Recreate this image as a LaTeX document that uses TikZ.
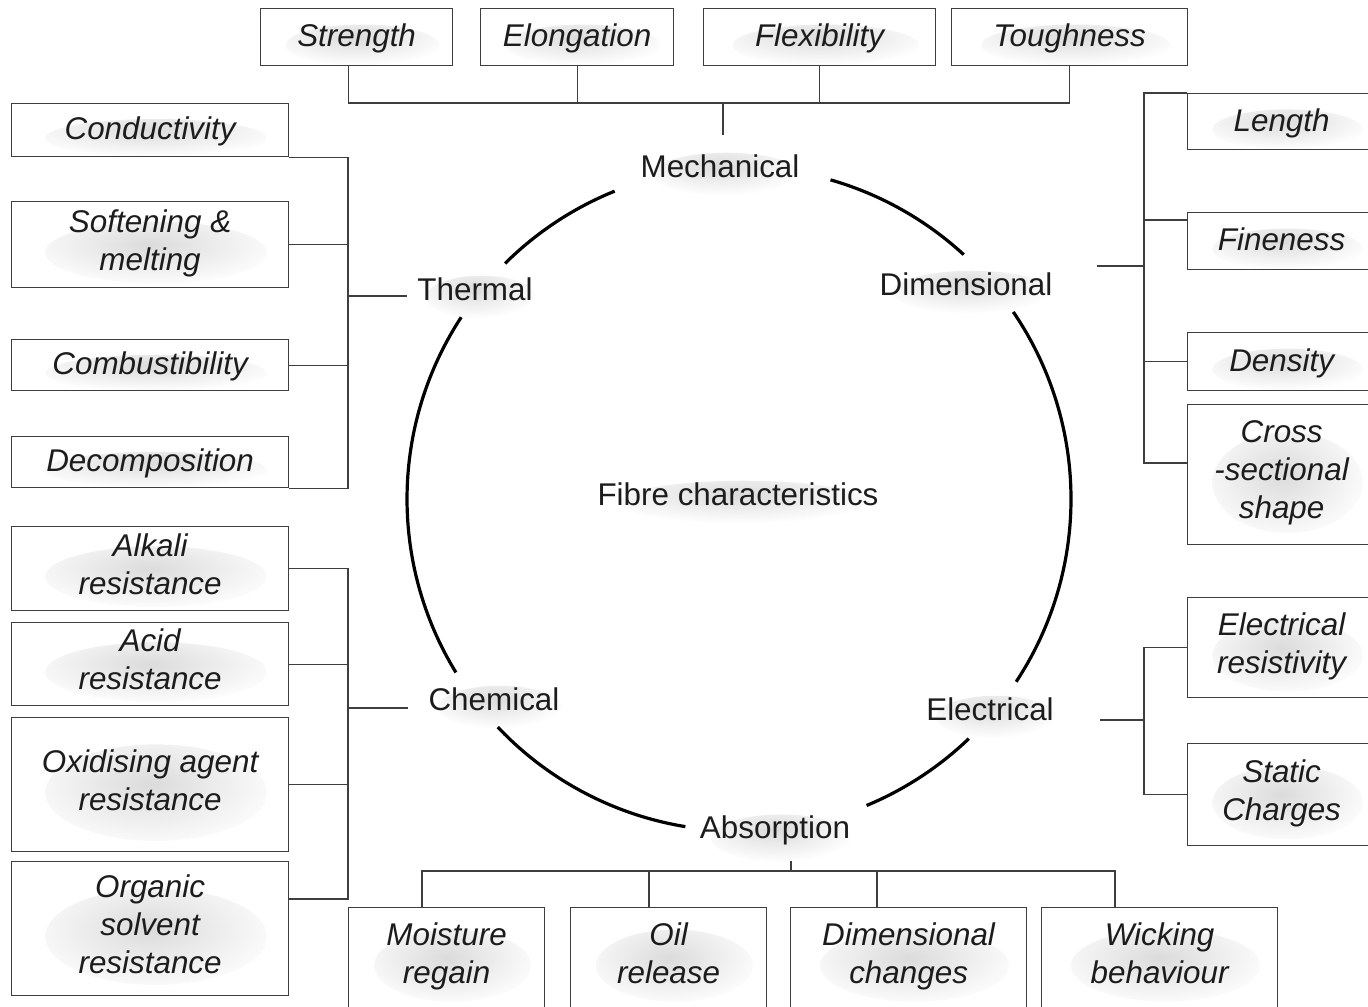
\documentclass[tikz,border=0pt]{standalone}
\usepackage{fontspec}
\setmainfont{Liberation Sans}
\usetikzlibrary{positioning, calc}
\definecolor{ink}{RGB}{28,28,28}
\definecolor{rule}{RGB}{62,62,62}
\newcommand\propstrut{\rule[-4.65pt]{0pt}{19pt}}

\begin{document}
\begin{tikzpicture}[x=0.5pt, y=-0.5pt,
    haze/.style={path picture={
        \shade[inner color=black!14, outer color=white]
          let \p1=(path picture bounding box.south west), \p2=(path picture bounding box.north east) in
          ([xshift=3pt, yshift=-4pt]path picture bounding box.center)
          ellipse[x radius={#1*(\x2-\x1)}, y radius={0.36*(\y2-\y1)}];}},
    haze/.default=0.4,
    prop/.style={rectangle, draw=rule, line width=0.6pt, fill=white, align=center, text=ink,
                 inner ysep=1pt, font=\fontsize{15.7}{19}\selectfont\itshape, haze,
                 execute at begin node=\propstrut, execute at end node=\propstrut},
    toprow/.style={prop, minimum height=28.5pt},
    leftcol/.style={prop, minimum width=138.5pt},
    rightcol/.style={prop, minimum width=94pt},
    botrow/.style={prop, minimum height=50pt},
    cat/.style={fill=white, text=ink, inner xsep=4pt, inner ysep=9pt,
                font=\fontsize{15.7}{19}\selectfont, haze=0.42},
    link/.style={draw=rule, line width=0.6pt},
    ring/.style={draw=black, line width=1.6pt}
]
    \clip (0,0) rectangle (1368,1006);
    \fill[white] (0,0) rectangle (1368,1006);

    % Centre and the six groups
    \node[cat] (core) at (738,494) {Fibre characteristics};
    \coordinate (hub) at (739,499);
    \node[cat] (mech) at (720,166) {Mechanical};
    \node[cat] (therm) at (475,289) {Thermal};
    \node[cat] (dimen) at (966,284) {Dimensional};
    \node[cat] (chem) at (494,699) {Chemical};
    \node[cat] (elec) at (990,709) {Electrical};
    \node[cat] (absorp) at (775,830) {Absorption};

    % Mechanical properties
    \node[toprow, minimum width=96pt, anchor=north west] (strength) at (260,8) {Strength};
    \node[toprow, minimum width=96.5pt, right=13.4pt of strength] (elong) {Elongation};
    \node[toprow, minimum width=116pt, right=14.4pt of elong] (flex) {Flexibility};
    \node[toprow, minimum width=118pt, right=7.4pt of flex] (tough) {Toughness};

    % Thermal properties
    \node[leftcol, minimum height=26.5pt, anchor=north west] (cond) at (11,103) {Conductivity};
    \node[leftcol, minimum height=43pt, below=21.9pt of cond] (soft) {Softening \&\\melting};
    \node[leftcol, minimum height=25.5pt, below=25.4pt of soft] (comb) {Combustibility};
    \node[leftcol, minimum height=25.5pt, below=22.4pt of comb] (decomp) {Decomposition};

    % Chemical properties
    \node[leftcol, minimum height=42pt, below=18.9pt of decomp] (alkali) {Alkali\\resistance};
    \node[leftcol, minimum height=41.5pt, below=5.4pt of alkali] (acid) {Acid\\resistance};
    \node[leftcol, minimum height=67pt, below=5.4pt of acid] (oxid) {Oxidising agent\\resistance};
    \node[leftcol, minimum height=67pt, below=4.4pt of oxid] (organic) {Organic\\solvent\\resistance};

    % Dimensional properties
    \node[rightcol, minimum height=28pt, anchor=north west] (length) at (1187,93) {Length};
    \node[rightcol, minimum height=28.5pt, below=30.9pt of length] (fine) {Fineness};
    \node[rightcol, minimum height=29pt, below=30.9pt of fine] (dens) {Density};
    \node[rightcol, minimum height=70pt, below=6.4pt of dens] (cross) {Cross\\-sectional\\shape};

    % Electrical properties
    \node[rightcol, minimum height=50pt, below=25.9pt of cross] (resist) {Electrical\\resistivity};
    \node[rightcol, minimum height=51pt, below=22.4pt of resist] (static) {Static\\Charges};

    % Absorption properties
    \node[botrow, minimum width=98pt, anchor=north west] (moist) at (348,907) {Moisture\\regain};
    \node[botrow, minimum width=98pt, right=12.4pt of moist] (oil) {Oil\\release};
    \node[botrow, minimum width=118pt, right=11.4pt of oil] (dimch) {Dimensional\\changes};
    \node[botrow, minimum width=118pt, right=6.9pt of dimch] (wick) {Wicking\\behaviour};

    % Ring, broken at the group names
    \foreach \from/\to in {47.4/74, -33.4/34.3, -67.4/-46.2, 223.4/260.7, 146.8/211.5, 112/134.8}
        \draw[ring] (hub) ++(\from:166pt) arc[start angle=\from, end angle=\to, radius=166pt];

    % Mechanical
    \coordinate (mbus) at (723,103);
    \coordinate (mstub) at (723,135);
    \draw[link] ($(strength.south)+(-8,0)$) |- (tough.south |- mbus) -- (tough.south);
    \draw[link] (elong.south) -- (elong.south |- mbus);
    \draw[link] (flex.south) -- (flex.south |- mbus);
    \draw[link] (mbus) -- (mstub);

    % Thermal
    \coordinate (tbus) at (348,296);
    \coordinate (tstub) at (407,296);
    \draw[link] (cond.south east) -| (tbus) |- (decomp.south east);
    \draw[link] (soft.east) -- (soft.east -| tbus);
    \draw[link] (comb.east) -- (comb.east -| tbus);
    \draw[link] (tbus) -- (tstub);

    % Chemical
    \coordinate (cbus) at (348,708);
    \coordinate (cstub) at (408,708);
    \coordinate (orgjoin) at ($(organic.north east)+(0,38)$);
    \draw[link] (alkali.east) -| (cbus) |- (orgjoin);
    \draw[link] (acid.east) -- (acid.east -| cbus);
    \draw[link] (oxid.east) -- (oxid.east -| cbus);
    \draw[link] (cbus) -- (cstub);

    % Dimensional
    \coordinate (dbus) at (1144,266);
    \coordinate (dstub) at (1097,266);
    \coordinate (finejoin) at ($(fine.north west)+(0,8)$);
    \coordinate (crossjoin) at ($(cross.north west)+(0,59)$);
    \draw[link] (length.north west) -| (dbus) |- (crossjoin);
    \draw[link] (finejoin) -- (finejoin -| dbus);
    \draw[link] (dens.west) -- (dens.west -| dbus);
    \draw[link] (dbus) -- (dstub);

    % Electrical
    \coordinate (ebus) at (1144,720);
    \coordinate (estub) at (1100,720);
    \draw[link] (resist.west) -| (ebus) |- (static.west);
    \draw[link] (ebus) -- (estub);

    % Absorption
    \coordinate (abus) at (791,871);
    \coordinate (astub) at (791,861);
    \draw[link] ($(moist.north west)+(74,0)$) |- (abus) -| ($(wick.north west)+(74,0)$);
    \draw[link] ($(oil.north west)+(79,0)$) -- ++(0,-36);
    \draw[link] ($(dimch.north west)+(87,0)$) -- ++(0,-36);
    \draw[link] (abus) -- (astub);
\end{tikzpicture}
\end{document}
